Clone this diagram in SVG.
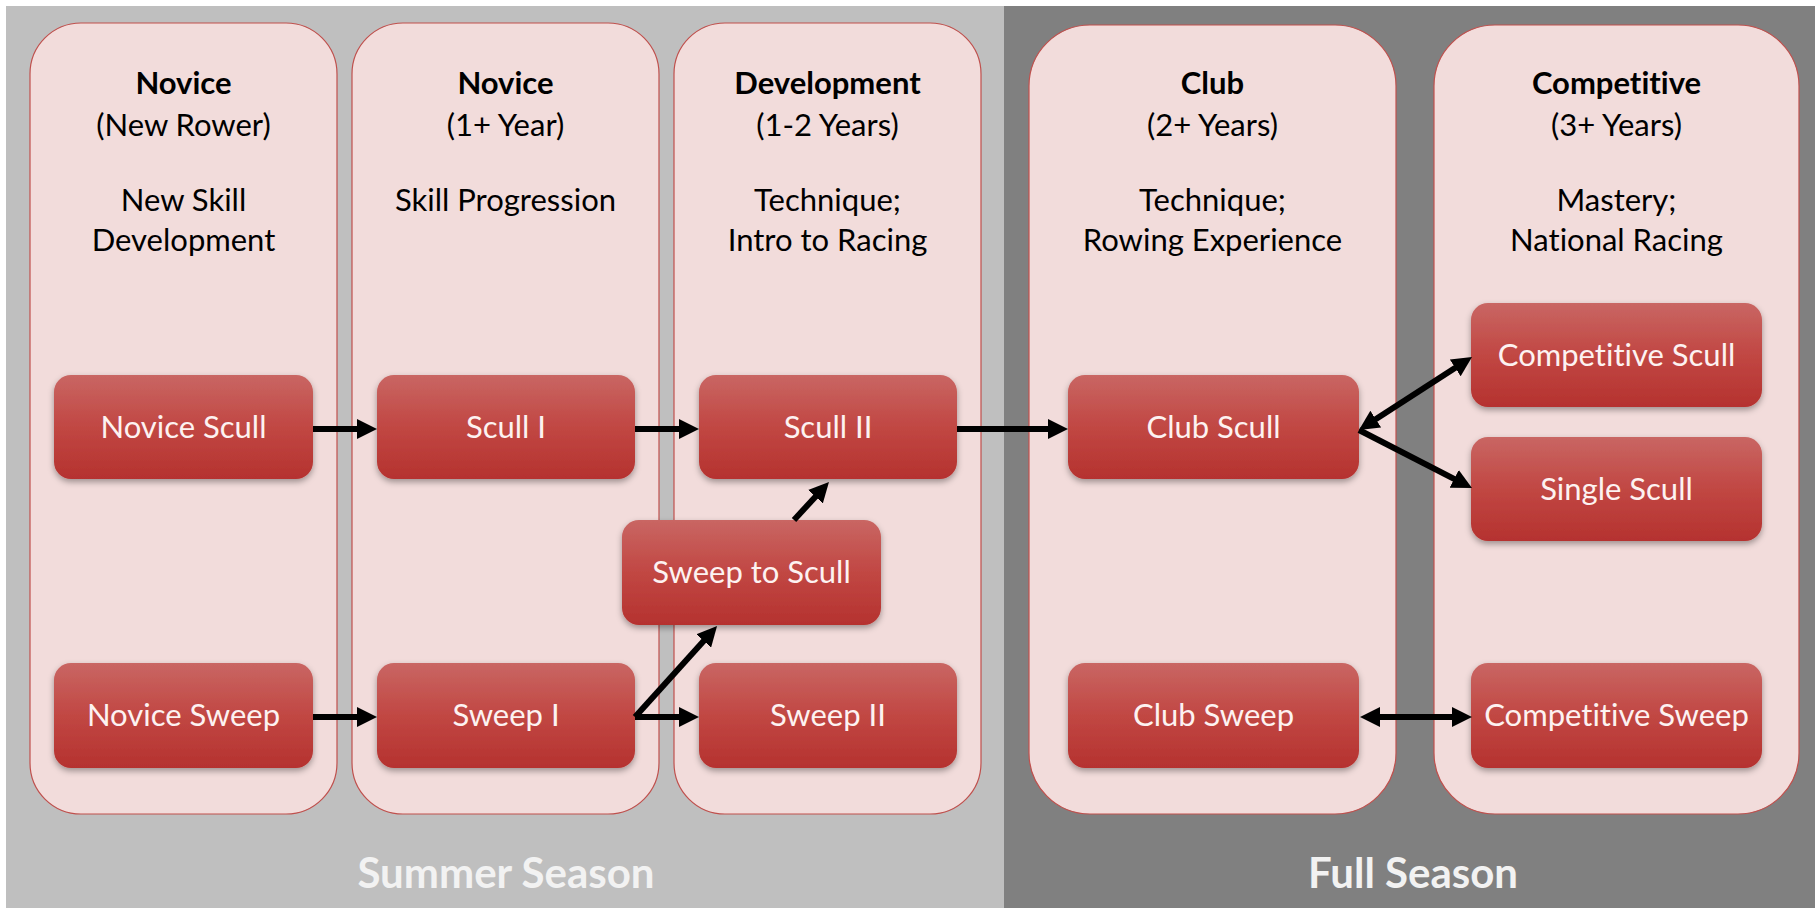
<svg xmlns="http://www.w3.org/2000/svg" width="1815" height="908" viewBox="0 0 1815 908">
  <defs>
    <linearGradient id="nodeGrad" x1="0" y1="0" x2="0" y2="1">
      <stop offset="0" stop-color="#c96663"/>
      <stop offset="0.5" stop-color="#c14743"/>
      <stop offset="1" stop-color="#b5322f"/>
    </linearGradient>
    <filter id="shadow" x="-10%" y="-10%" width="120%" height="140%">
      <feDropShadow dx="0" dy="3" stdDeviation="3" flood-color="#000" flood-opacity="0.35"/>
    </filter>
    <marker id="arrow" markerUnits="userSpaceOnUse" markerWidth="20" markerHeight="20" refX="2" refY="10" orient="auto-start-reverse">
      <path d="M0,0 L20,10 L0,20 z" fill="#000"/>
    </marker>
    <style>
      text { font-variant-ligatures: none; }
      .col { fill: #f2dcdb; stroke: #c0504d; stroke-width: 1.2; }
      .node { fill: url(#nodeGrad); filter: url(#shadow); }
      .hdr { font-family: Lato, "Liberation Sans", sans-serif; font-size: 31px; fill: #000; text-anchor: middle; }
      .hdr-b { font-weight: bold; }
      .ntxt { font-family: Lato, "Liberation Sans", sans-serif; font-size: 31px; fill: #fdf2f1; text-anchor: middle; }
      .season { font-family: Lato, "Liberation Sans", sans-serif; font-size: 42px; font-weight: bold; fill: #f2f2f2; text-anchor: middle; }
      .conn { stroke: #000; stroke-width: 6; fill: none; }
    </style>
  </defs>

  <g id="background">
    <rect x="6" y="6" width="998" height="902" fill="#bfbfbf"/>
    <rect x="1004" y="6" width="811" height="902" fill="#808080"/>
    <text class="season" x="506" y="888">Summer Season</text>
    <text class="season" x="1413" y="888">Full Season</text>
  </g>

  <g id="col-novice-new">
    <rect class="col" x="30" y="23" width="307" height="791" rx="51" ry="51"/>
    <text class="hdr hdr-b" x="183.5" y="94">Novice</text>
    <text class="hdr" x="183.5" y="136">(New Rower)</text>
    <text class="hdr" x="183.5" y="211">New Skill</text>
    <text class="hdr" x="183.5" y="251">Development</text>
  </g>
  <g id="col-novice-1yr">
    <rect class="col" x="352" y="23" width="307" height="791" rx="51" ry="51"/>
    <text class="hdr hdr-b" x="505.5" y="94">Novice</text>
    <text class="hdr" x="505.5" y="136">(1+ Year)</text>
    <text class="hdr" x="505.5" y="211">Skill Progression</text>
  </g>
  <g id="col-development">
    <rect class="col" x="674" y="23" width="307" height="791" rx="51" ry="51"/>
    <text class="hdr hdr-b" x="827.5" y="94">Development</text>
    <text class="hdr" x="827.5" y="136">(1-2 Years)</text>
    <text class="hdr" x="827.5" y="211">Technique;</text>
    <text class="hdr" x="827.5" y="251">Intro to Racing</text>
  </g>
  <g id="col-club">
    <rect class="col" x="1029" y="25" width="367" height="789" rx="61" ry="61"/>
    <text class="hdr hdr-b" x="1212.5" y="94">Club</text>
    <text class="hdr" x="1212.5" y="136">(2+ Years)</text>
    <text class="hdr" x="1212.5" y="211">Technique;</text>
    <text class="hdr" x="1212.5" y="251">Rowing Experience</text>
  </g>
  <g id="col-competitive">
    <rect class="col" x="1434" y="25" width="365" height="789" rx="61" ry="61"/>
    <text class="hdr hdr-b" x="1616.5" y="94">Competitive</text>
    <text class="hdr" x="1616.5" y="136">(3+ Years)</text>
    <text class="hdr" x="1616.5" y="211">Mastery;</text>
    <text class="hdr" x="1616.5" y="251">National Racing</text>
  </g>

  <g id="novice-scull">
    <rect class="node" x="54" y="375" width="259" height="104" rx="17"/>
    <text class="ntxt" x="183.5" y="438">Novice Scull</text>
  </g>
  <g id="scull-1">
    <rect class="node" x="377" y="375" width="258" height="104" rx="17"/>
    <text class="ntxt" x="506" y="438">Scull I</text>
  </g>
  <g id="scull-2">
    <rect class="node" x="699" y="375" width="258" height="104" rx="17"/>
    <text class="ntxt" x="828" y="438">Scull II</text>
  </g>
  <g id="sweep-to-scull">
    <rect class="node" x="622" y="520" width="259" height="105" rx="17"/>
    <text class="ntxt" x="751.5" y="583">Sweep to Scull</text>
  </g>
  <g id="novice-sweep">
    <rect class="node" x="54" y="663" width="259" height="105" rx="17"/>
    <text class="ntxt" x="183.5" y="726">Novice Sweep</text>
  </g>
  <g id="sweep-1">
    <rect class="node" x="377" y="663" width="258" height="105" rx="17"/>
    <text class="ntxt" x="506" y="726">Sweep I</text>
  </g>
  <g id="sweep-2">
    <rect class="node" x="699" y="663" width="258" height="105" rx="17"/>
    <text class="ntxt" x="828" y="726">Sweep II</text>
  </g>
  <g id="club-scull">
    <rect class="node" x="1068" y="375" width="291" height="104" rx="17"/>
    <text class="ntxt" x="1213.5" y="438">Club Scull</text>
  </g>
  <g id="club-sweep">
    <rect class="node" x="1068" y="663" width="291" height="105" rx="17"/>
    <text class="ntxt" x="1213.5" y="726">Club Sweep</text>
  </g>
  <g id="competitive-scull">
    <rect class="node" x="1471" y="303" width="291" height="104" rx="17"/>
    <text class="ntxt" x="1616.5" y="366">Competitive Scull</text>
  </g>
  <g id="single-scull">
    <rect class="node" x="1471" y="437" width="291" height="104" rx="17"/>
    <text class="ntxt" x="1616.5" y="500">Single Scull</text>
  </g>
  <g id="competitive-sweep">
    <rect class="node" x="1471" y="663" width="291" height="105" rx="17"/>
    <text class="ntxt" x="1616.5" y="726">Competitive Sweep</text>
  </g>

  <g id="connectors">
    <line class="conn" x1="313" y1="429" x2="359" y2="429" marker-end="url(#arrow)"/>
    <line class="conn" x1="635" y1="429" x2="681" y2="429" marker-end="url(#arrow)"/>
    <line class="conn" x1="957" y1="429" x2="1050" y2="429" marker-end="url(#arrow)"/>
    <line class="conn" x1="313" y1="717" x2="359" y2="717" marker-end="url(#arrow)"/>
    <line class="conn" x1="635" y1="717" x2="681" y2="717" marker-end="url(#arrow)"/>
    <line class="conn" x1="635" y1="717" x2="705" y2="639.4" marker-end="url(#arrow)"/>
    <line class="conn" x1="794" y1="520" x2="816.8" y2="495.2" marker-end="url(#arrow)"/>
    <line class="conn" x1="1374.1" y1="420.2" x2="1456.9" y2="366.8" marker-start="url(#arrow)" marker-end="url(#arrow)"/>
    <line class="conn" x1="1359" y1="430" x2="1456" y2="479.8" marker-end="url(#arrow)"/>
    <line class="conn" x1="1378" y1="717" x2="1454" y2="717" marker-start="url(#arrow)" marker-end="url(#arrow)"/>
  </g>
</svg>
